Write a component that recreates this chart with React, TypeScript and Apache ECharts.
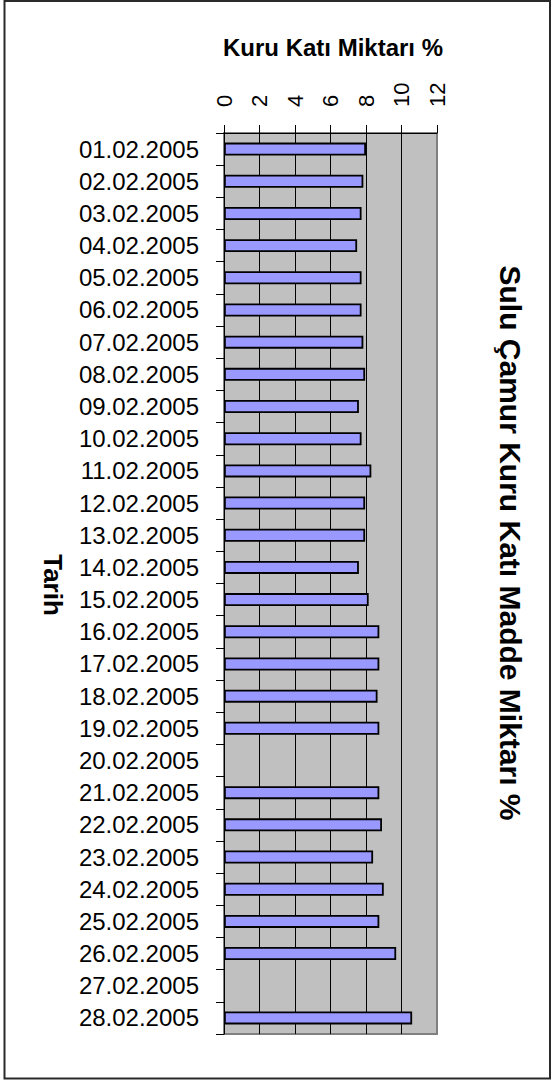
import React, { useEffect, useRef } from "react";
import * as echarts from "echarts";

// Sampling dates (February 2005)
const dates: string[] = [
  "01.02.2005", "02.02.2005", "03.02.2005", "04.02.2005", "05.02.2005",
  "06.02.2005", "07.02.2005", "08.02.2005", "09.02.2005", "10.02.2005",
  "11.02.2005", "12.02.2005", "13.02.2005", "14.02.2005", "15.02.2005",
  "16.02.2005", "17.02.2005", "18.02.2005", "19.02.2005", "20.02.2005",
  "21.02.2005", "22.02.2005", "23.02.2005", "24.02.2005", "25.02.2005",
  "26.02.2005", "27.02.2005", "28.02.2005",
];

// Dry solids content (%) per day; null = no measurement
const dryMatter: (number | null)[] = [
  8.0, 7.85, 7.75, 7.5, 7.75,
  7.75, 7.85, 7.95, 7.6, 7.75,
  8.3, 7.95, 7.95, 7.6, 8.15,
  8.75, 8.75, 8.65, 8.75, null,
  8.75, 8.9, 8.4, 9.0, 8.75,
  9.7, null, 10.6,
];

const valueMin = 0;
const valueMax = 12;
const valueStep = 2;

const chartTitle = "Sulu Çamur Kuru Katı Madde Miktarı %";
const valueAxisTitle = "Kuru Katı Miktarı %";
const categoryAxisTitle = "Tarih";

const FONT = "'Liberation Sans', Arial, sans-serif";

export default function App() {
  const ref = useRef<HTMLDivElement>(null);

  useEffect(() => {
    if (!ref.current) return;
    const chart = echarts.init(ref.current, undefined, { renderer: "svg" });
    chart.setOption({
      animation: false,
      backgroundColor: "#ffffff",
      grid: {
        left: 224,
        top: 133,
        width: 213,
        height: 901,
        show: true,
        backgroundColor: "#c0c0c0",
        borderColor: "#808080",
        borderWidth: 2,
      },
      xAxis: {
        type: "value",
        position: "top",
        min: valueMin,
        max: valueMax,
        interval: valueStep,
        axisLine: { show: true, lineStyle: { color: "#000", width: 1 } },
        axisTick: { show: true, length: 8, lineStyle: { color: "#000", width: 1 } },
        axisLabel: {
          // clockwise: labels read top to bottom
          rotate: -90,
          margin: 26,
          fontSize: 22,
          color: "#000",
          fontFamily: FONT,
        },
        splitLine: {
          show: true,
          showMinLine: false,
          showMaxLine: false,
          lineStyle: { color: "#000", width: 1 },
        },
      },
      yAxis: {
        type: "category",
        data: dates,
        inverse: true,
        axisLine: { show: true, lineStyle: { color: "#000", width: 1 } },
        axisTick: { show: true, length: 8, lineStyle: { color: "#000", width: 1 } },
        axisLabel: {
          margin: 25,
          fontSize: 24,
          color: "#000",
          fontFamily: FONT,
          interval: 0,
        },
      },
      series: [
        {
          type: "bar",
          data: dryMatter,
          barWidth: 13,
          itemStyle: {
            color: "#9999ff",
            borderColor: "#000",
            borderWidth: 1.8,
          },
        },
      ],
      graphic: [
        {
          type: "rect",
          shape: { x: 4.5, y: 1, width: 545.5, height: 1077.5 },
          style: { fill: "none", stroke: "#2a2a2a", lineWidth: 2 },
          silent: true,
        },
        {
          type: "text",
          x: 223,
          y: 47,
          style: {
            text: valueAxisTitle,
            font: `bold 24px ${FONT}`,
            fill: "#000",
            align: "left",
            verticalAlign: "middle",
          },
        },
        {
          type: "text",
          x: 510,
          y: 543,
          rotation: -Math.PI / 2,
          style: {
            text: chartTitle,
            font: `bold 30px ${FONT}`,
            fill: "#000",
            align: "center",
            verticalAlign: "middle",
          },
        },
        {
          type: "text",
          x: 52.5,
          y: 585,
          rotation: -Math.PI / 2,
          style: {
            text: categoryAxisTitle,
            font: `bold 26px ${FONT}`,
            fill: "#000",
            align: "center",
            verticalAlign: "middle",
          },
        },
      ],
    });
    return () => chart.dispose();
  }, []);

  return (
    <div
      ref={ref}
      style={{ position: "absolute", left: 0, top: 0, width: 554, height: 1080 }}
    />
  );
}
